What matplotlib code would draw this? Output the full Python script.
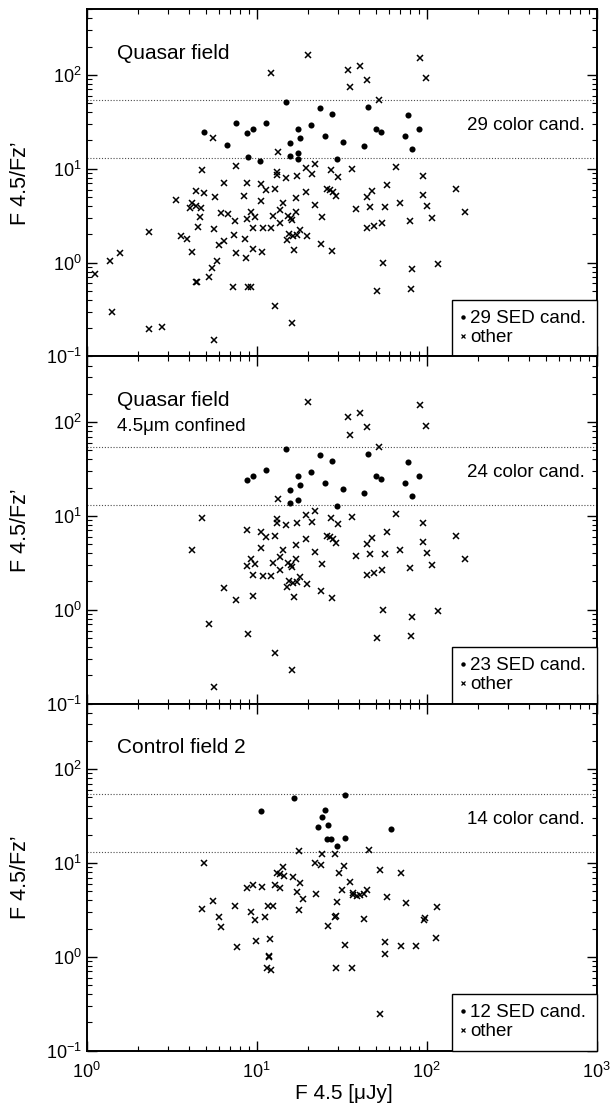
import matplotlib.pyplot as plt
from matplotlib.lines import Line2D

plt.rcParams['font.family'] = ['Liberation Sans', 'DejaVu Sans']
plt.rcParams['mathtext.fontset'] = 'custom'
plt.rcParams['mathtext.rm'] = 'Liberation Sans'
plt.rcParams['mathtext.it'] = 'Liberation Sans:italic'
plt.rcParams['mathtext.bf'] = 'Liberation Sans:bold'

# colour cuts in F4.5/Fz'
color_cuts = [13.0, 54.0]

# quasar field, all sources
qso_sed_x = [4.90, 6.72, 7.59, 8.73, 9.47, 8.89, 10.4, 11.3, 14.8, 15.6,
             15.7, 17.4, 18.1, 17.5, 17.5, 20.8, 23.5, 25.3, 27.6, 29.7,
             32.2, 42.6, 45.2, 50.3, 53.6, 74.3, 78.0, 81.6, 89.7]
qso_sed_y = [24.9, 18.1, 30.8, 24.1, 26.3, 13.2, 12.2, 30.8, 51.8, 18.7,
             13.8, 26.6, 21.5, 14.7, 12.7, 29.3, 44.4, 22.6, 38.3, 12.7,
             19.3, 17.4, 45.5, 26.8, 24.9, 22.2, 37.1, 16.4, 26.4]
qso_other_x = [20.1, 12.1, 5.53, 13.3, 7.59, 4.79, 13.2, 13.1, 14.9, 17.3,
               19.6, 21.2, 22.0, 27.2, 30.2, 6.40, 8.77, 10.6, 11.4, 12.8,
               4.40, 4.90, 19.6, 25.9, 27.0, 28.2, 29.3, 3.34, 5.71, 8.42,
               10.6, 17.0, 14.3, 4.15, 4.05, 4.40, 4.70, 22.1, 13.8, 4.66,
               6.14, 6.78, 9.22, 8.81, 9.82, 12.4, 15.2, 15.9, 16.1, 17.0,
               24.2, 7.43, 5.61, 4.50, 9.55, 10.9, 12.1, 13.8, 18.0, 15.5,
               16.3, 17.3, 15.0, 3.57, 3.87, 7.33, 8.58, 19.8, 6.45, 6.03,
               23.9, 7.56, 9.51, 10.7, 16.6, 27.7, 4.15, 8.61, 5.82, 5.44,
               5.22, 1.57, 1.37, 1.12, 4.38, 4.44, 7.26, 8.85, 9.22, 1.40,
               2.33, 2.34, 2.77, 5.61, 12.8, 16.2,
               91.8, 34.5, 40.3, 44.8, 35.2, 98.6, 52.4, 66.3, 36.2, 95.6,
               58.4, 47.7, 44.6, 149, 95.6, 38.2, 46.6, 56.6, 69.4, 101,
               167, 107, 44.6, 49.2, 54.8, 79.4, 55.1, 116, 82.4, 51.3, 81.3]
qso_other_y = [163, 106, 21.3, 15.0, 10.7, 9.59, 9.29, 8.49, 8.02, 8.35,
               10.2, 8.70, 11.2, 9.59, 8.15, 7.10, 7.04, 6.81, 5.88, 6.03,
               5.79, 5.56, 5.60, 6.13, 5.98, 5.65, 5.12, 4.65, 4.96, 5.08,
               4.57, 4.84, 4.35, 4.35, 3.85, 4.01, 3.82, 4.08, 3.67, 3.04,
               3.41, 3.27, 3.44, 2.90, 3.07, 3.12, 3.12, 2.99, 2.83, 3.49,
               3.04, 2.76, 2.29, 2.42, 2.34, 2.31, 2.31, 2.67, 2.21, 2.04,
               1.94, 1.97, 1.76, 1.91, 1.78, 1.99, 1.79, 1.90, 1.69, 1.53,
               1.57, 1.26, 1.41, 1.30, 1.36, 1.34, 1.31, 1.13, 1.05, 0.881,
               0.696, 1.28, 1.045, 0.755, 0.626, 0.616, 0.554, 0.545, 0.554, 0.296,
               2.14, 0.195, 0.208, 0.150, 0.345, 0.226,
               151, 113, 125, 88.0, 73.6, 91.6, 54.0, 10.5, 9.83, 8.42,
               6.76, 5.84, 5.00, 6.13, 5.21, 3.76, 3.91, 3.91, 4.35, 4.04,
               3.46, 3.02, 2.36, 2.44, 2.65, 2.76, 1.00, 0.972, 0.846, 0.502, 0.527]

# quasar field, 4.5um confined sources
conf_sed_x = [8.73, 9.47, 11.3, 14.8, 15.6, 15.7, 17.4, 18.1, 17.5, 20.8,
              23.5, 25.3, 27.6, 29.7, 32.2, 42.6, 45.2, 50.3, 53.6, 74.3,
              78.0, 81.6, 89.7]
conf_sed_y = [24.1, 26.3, 30.8, 51.8, 18.7, 13.8, 26.6, 21.5, 14.7, 29.3,
              44.4, 22.6, 38.3, 12.7, 19.3, 17.4, 45.5, 26.8, 24.9, 22.2,
              37.1, 16.4, 26.4]
conf_other_x = [20.1, 13.3, 4.79, 13.2, 13.1, 14.9, 17.3, 19.6, 21.2, 22.0,
                27.2, 30.2, 8.77, 10.6, 11.4, 12.8, 19.6, 25.9, 27.0, 28.2,
                29.3, 10.6, 17.0, 14.3, 4.15, 22.1, 13.8, 9.22, 8.81, 9.82,
                12.4, 15.2, 15.9, 16.1, 17.0, 24.2, 9.55, 10.9, 12.1, 13.8,
                18.0, 15.5, 16.3, 17.3, 15.0, 19.8, 6.45, 23.9, 7.56, 9.51,
                16.6, 27.7, 5.22, 8.85, 5.61, 12.8, 16.2,
                91.8, 34.5, 40.3, 44.8, 35.2, 98.6, 52.4, 66.3, 36.2, 95.6,
                58.4, 47.7, 44.6, 149, 95.6, 38.2, 46.6, 56.6, 69.4, 101,
                167, 107, 44.6, 49.2, 54.8, 79.4, 55.1, 116, 82.4, 51.3, 81.3]
conf_other_y = [163, 15.0, 9.59, 9.29, 8.49, 8.02, 8.35, 10.2, 8.70, 11.2,
                9.59, 8.15, 7.04, 6.81, 5.88, 6.03, 5.60, 6.13, 5.98, 5.65,
                5.12, 4.57, 4.84, 4.35, 4.35, 4.08, 3.67, 3.44, 2.90, 3.07,
                3.12, 3.12, 2.99, 2.83, 3.49, 3.04, 2.34, 2.31, 2.31, 2.67,
                2.21, 2.04, 1.94, 1.97, 1.76, 1.90, 1.69, 1.57, 1.26, 1.41,
                1.36, 1.34, 0.696, 0.545, 0.150, 0.345, 0.226,
                151, 113, 125, 88.0, 73.6, 91.6, 54.0, 10.5, 9.83, 8.42,
                6.76, 5.84, 5.00, 6.13, 5.21, 3.76, 3.91, 3.91, 4.35, 4.04,
                3.46, 3.02, 2.36, 2.44, 2.65, 2.76, 1.00, 0.972, 0.846, 0.502, 0.527]

# control field 2
ctrl_sed_x = [10.6, 16.5, 25.2, 24.1, 23.1, 26.4, 25.8, 27.4, 29.7, 33.2,
              61.7, 32.9]
ctrl_sed_y = [35.8, 49.1, 36.4, 30.9, 24.2, 25.4, 18.0, 17.8, 15.2, 52.9,
              23.2, 18.6]
ctrl_other_x = [4.90, 17.7, 24.3, 22.0, 24.0, 14.2, 13.2, 13.8, 14.4, 16.4,
                18.0, 8.81, 9.55, 10.8, 12.9, 13.8, 17.2, 18.8, 22.2, 5.56,
                7.46, 9.26, 9.78, 11.6, 12.5, 17.7, 6.03, 6.20, 11.2, 7.70,
                9.95, 11.9, 11.8, 11.5, 12.1, 26.4, 4.75, 11.8, 45.8, 28.9,
                32.8, 30.5, 53.1, 70.3, 35.6, 31.8, 36.9, 36.9, 38.7, 40.5,
                42.8, 44.4, 58.4, 75.6, 29.8, 115, 28.9, 29.2, 42.6, 96.5,
                98.2, 57.1, 56.9, 33.2, 70.3, 86.1, 114, 29.4, 36.5, 53.4]
ctrl_other_y = [10.1, 13.5, 12.6, 10.0, 9.48, 8.95, 7.79, 7.54, 7.30, 7.07,
                6.15, 5.40, 5.77, 5.53, 5.77, 5.45, 4.86, 4.13, 4.63, 3.90,
                3.48, 3.03, 2.45, 3.51, 3.45, 3.18, 2.64, 2.10, 2.64, 1.27,
                1.49, 1.53, 1.02, 0.752, 0.722, 2.12, 3.23, 0.984, 13.6, 12.5,
                9.25, 7.86, 8.32, 7.73, 6.26, 5.18, 4.82, 4.51, 4.44, 4.59,
                4.70, 5.18, 4.30, 3.74, 3.80, 3.37, 2.64, 2.70, 2.55, 2.45,
                2.59, 1.43, 1.07, 1.34, 1.30, 1.30, 1.58, 0.752, 0.752, 0.246]


def draw_panel(ax, sed_x, sed_y, other_x, other_y, n_color, title,
               subtitle=None):
  ax.set_xscale('log')
  ax.set_yscale('log')
  for cut in color_cuts:
    ax.axhline(cut, color='0.3', lw=0.8, ls=(0, (1, 1.6)), zorder=1)
  ax.plot(other_x, other_y, 'x', color='k', ms=4.2, mew=1.1, zorder=2)
  ax.plot(sed_x, sed_y, 'o', color='k', ms=4.4, mew=0, zorder=3)
  ax.set_xlim(1, 1000)
  ax.set_ylim(0.1, 500)

  ax.text(0.059, 0.857, title, transform=ax.transAxes, fontsize=15,
          va='baseline')
  if subtitle:
    ax.text(0.059, 0.784, subtitle, transform=ax.transAxes, fontsize=13.5,
            va='baseline')
  ax.text(0.977, 29, '%d color cand.' % n_color,
          transform=ax.get_yaxis_transform(), fontsize=13.5, ha='right',
          va='center')

  handles = [Line2D([], [], marker='o', ls='none', color='k', ms=3.2, mew=0),
             Line2D([], [], marker='x', ls='none', color='k', ms=3.2,
                    mew=0.9)]
  leg = ax.legend(handles, ['%d SED cand.' % len(sed_x), 'other'],
                  loc='lower right', borderaxespad=0, fancybox=False,
                  framealpha=1, edgecolor='k', fontsize=13.5,
                  handlelength=0.1, handletextpad=0.35, borderpad=0.55,
                  labelspacing=0.1)
  leg.get_frame().set_linewidth(1.0)

  ax.tick_params(which='both', direction='in', top=True, right=True,
                 labelsize=13)
  ax.tick_params(which='major', length=7, width=1.0)
  ax.tick_params(which='minor', length=3.5, width=0.8)
  ax.tick_params(axis='x', pad=8)
  for spine in ax.spines.values():
    spine.set_linewidth(1.4)
  ax.set_ylabel('F 4.5/Fz\u2019', fontsize=15.5)
  ax.yaxis.set_label_coords(-0.11, 0.5)


fig, axs = plt.subplots(3, 1, sharex=True, figsize=(6.13, 11.07), dpi=100)
plt.subplots_adjust(left=0.1414, right=0.9734, bottom=0.0509, top=0.9916,
                    hspace=0)

draw_panel(axs[0], qso_sed_x, qso_sed_y, qso_other_x, qso_other_y, 29,
           'Quasar field')
draw_panel(axs[1], conf_sed_x, conf_sed_y, conf_other_x, conf_other_y, 24,
           'Quasar field', '4.5\u03bcm confined')
draw_panel(axs[2], ctrl_sed_x, ctrl_sed_y, ctrl_other_x, ctrl_other_y, 14,
           'Control field 2')

axs[0].tick_params(labelbottom=False)
axs[1].tick_params(labelbottom=False)
axs[2].set_xlabel('F 4.5 [\u03bcJy]', fontsize=15)
axs[2].xaxis.set_label_coords(0.505, -0.095)

plt.savefig('out.png', dpi=100)
